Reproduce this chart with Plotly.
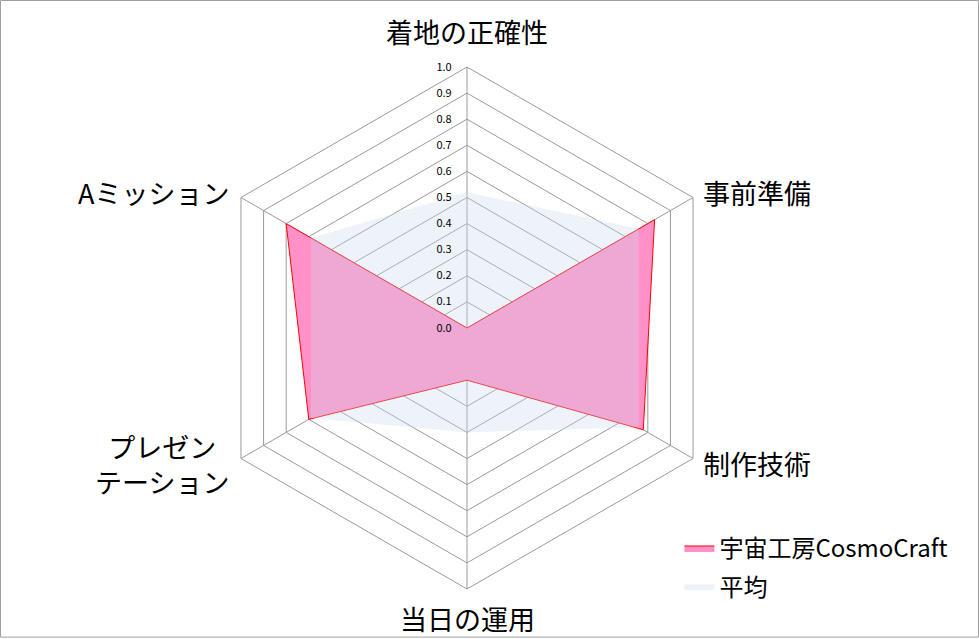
import math
import plotly.graph_objects as go

# 評価項目（上から時計回り）
categories = ["着地の正確性", "事前準備", "制作技術", "当日の運用", "プレゼン<br>テーション", "Aミッション"]

# 各チームのスコア
cosmocraft = [0.0, 0.83, 0.78, 0.20, 0.70, 0.80]
average = [0.52, 0.76, 0.76, 0.40, 0.69, 0.69]

radial_ticks = [0.0, 0.1, 0.2, 0.3, 0.4, 0.5, 0.6, 0.7, 0.8, 0.9, 1.0]

font_jp = "Noto Sans CJK JP"
W, H = 979, 639
# レーダーの中心と半径（ピクセル）
cx_px, cy_px, rad_px = 467, 328, 261

fig = go.Figure()

# 宇宙工房CosmoCraft（下に描画）
fig.add_trace(go.Scatterpolar(
    r=cosmocraft + cosmocraft[:1],
    theta=categories + categories[:1],
    name="宇宙工房CosmoCraft",
    legendgroup="a",
    mode="lines",
    fill="toself",
    fillcolor="rgb(255,145,200)",
    line=dict(color="#FF0000", width=1),
))

# 平均（半透明で上に重ねる）
fig.add_trace(go.Scatterpolar(
    r=average + average[:1],
    theta=categories + categories[:1],
    name="平均",
    legendgroup="b",
    mode="lines",
    fill="toself",
    fillcolor="rgba(202,217,239,0.32)",
    line=dict(color="rgba(0,0,0,0)", width=0),
))

fig.update_layout(
    width=W,
    height=H,
    margin=dict(l=0, r=0, t=0, b=0),
    paper_bgcolor="white",
    plot_bgcolor="white",
    font=dict(family=font_jp, color="black"),
    polar=dict(
        domain=dict(x=[(cx_px - rad_px) / W, (cx_px + rad_px) / W],
                    y=[1 - (cy_px + rad_px) / H, 1 - (cy_px - rad_px) / H]),
        bgcolor="white",
        gridshape="linear",
        angularaxis=dict(
            rotation=90,
            direction="clockwise",
            showline=True,
            linecolor="#9A9A9A",
            linewidth=1,
            gridcolor="#9A9A9A",
            gridwidth=1,
            ticks="",
            showticklabels=False,
        ),
        radialaxis=dict(
            range=[0, 1],
            angle=90,
            tickangle=90,
            tickvals=radial_ticks,
            tickformat=".1f",
            tickfont=dict(size=11, family=font_jp, color="black"),
            showline=False,
            ticks="outside",
            ticklen=11,
            tickcolor="rgba(0,0,0,0)",
            gridcolor="#9A9A9A",
            gridwidth=1,
            side="counterclockwise",
        ),
    ),
    legend=dict(
        x=0.694,
        y=0.177,
        xanchor="left",
        yanchor="top",
        font=dict(size=24, family=font_jp, color="black"),
        bgcolor="rgba(0,0,0,0)",
        tracegroupgap=4,
        itemwidth=30,
    ),
)

# 項目ラベル（各頂点の外側）
n = len(categories)
for i, label in enumerate(categories):
    ang = math.radians(90 - 360 / n * i)
    vx = (cx_px + rad_px * math.cos(ang)) / W
    vy = 1 - (cy_px - rad_px * math.sin(ang)) / H
    c, s = math.cos(ang), math.sin(ang)
    if abs(c) < 0.01:
        xanchor, xshift = "center", 0
        yanchor = "bottom" if s > 0 else "top"
        yshift = 14 if s > 0 else -8
    else:
        xanchor = "left" if c > 0 else "right"
        xshift = 8 if c > 0 else -10
        yanchor = "middle"
        yshift = 5 if s > 0 else -5
    fig.add_annotation(
        text=label, x=vx, y=vy, xref="paper", yref="paper",
        xanchor=xanchor, yanchor=yanchor, xshift=xshift, yshift=yshift,
        showarrow=False, align="center",
        font=dict(size=27, family=font_jp, color="black"),
    )

# チャートの外枠
fig.add_shape(
    type="rect", xref="paper", yref="paper",
    x0=0.0005, y0=0.003, x1=0.9995, y1=0.9992,
    line=dict(color="#A0A0A0", width=1),
)

fig.write_html("out.html", config={"displayModeBar": False},
               post_script="document.body.style.margin='0';")
